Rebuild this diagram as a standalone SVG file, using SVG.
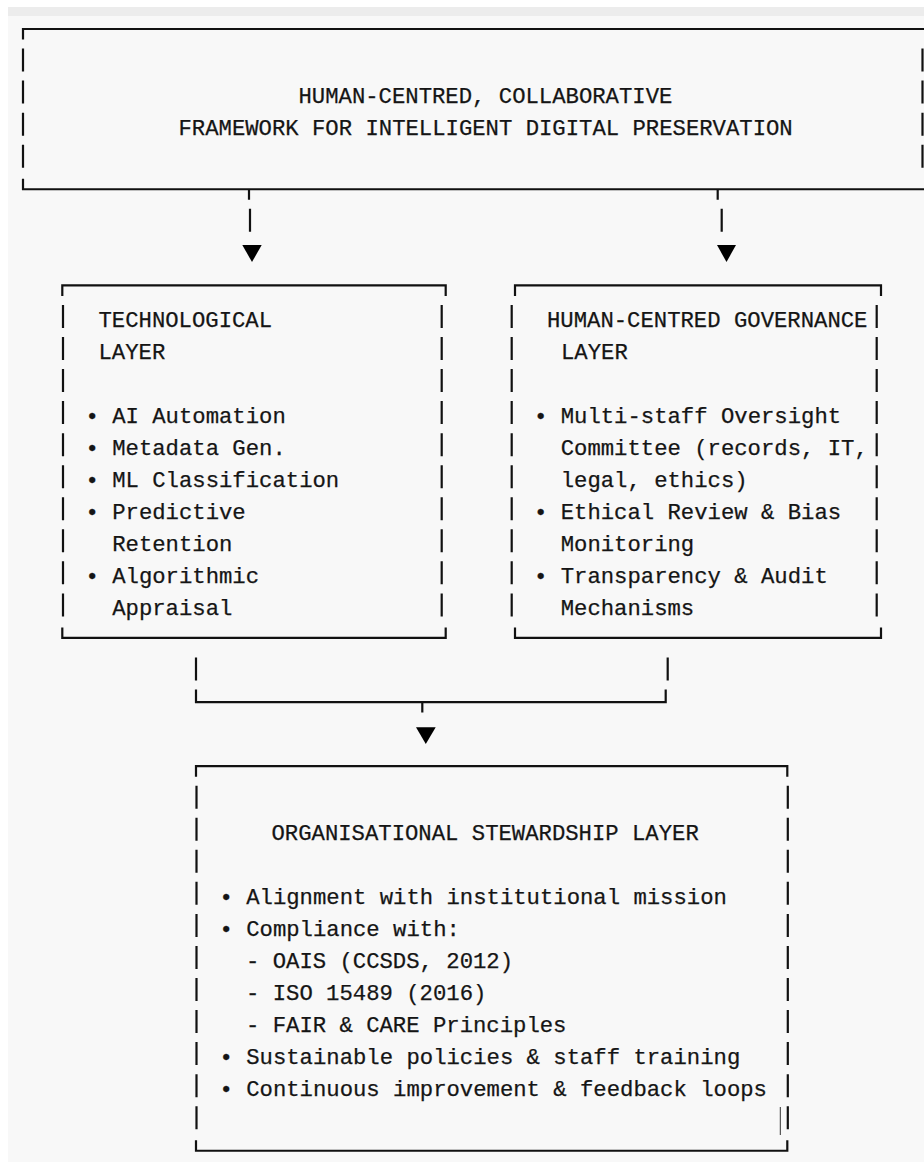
<svg xmlns="http://www.w3.org/2000/svg" width="924" height="1162" viewBox="0 0 924 1162">
<style>
.t{font-family:"Liberation Mono","DejaVu Sans Mono",monospace;font-size:22.25px;fill:#151515;stroke:#151515;stroke-width:0.25}
.b{fill:none;stroke:#111;stroke-width:2.2}
.v{fill:none;stroke:#111;stroke-width:2.2;stroke-dasharray:23 9.05}
.ah{fill:#000}
</style>
<rect x="0" y="0" width="924" height="1162" fill="#ffffff"/>
<rect x="8" y="7" width="916" height="1155" fill="#f8f8f8"/>
<rect x="8" y="7" width="916" height="9" fill="#ececec"/>

<g id="node-top">
  <path class="b" d="M23 39.5 V29 H930 M23 178.75 V189.25 H930"/>
  <path class="v" d="M23 48.55 V167.7 M922.5 48.55 V167.7"/>
  <text class="t" x="298.5" y="102.6">HUMAN-CENTRED, COLLABORATIVE</text>
  <text class="t" x="178.5" y="134.65">FRAMEWORK FOR INTELLIGENT DIGITAL PRESERVATION</text>
</g>

<g id="node-tech">
  <path class="b" d="M62.3 295.9 V285.4 H445.7 V295.9 M62.3 627.45 V637.95 H445.7 V627.45"/>
  <path class="v" d="M63 304.95 V616.4 M441.7 304.95 V616.4"/>
  <text class="t" x="98.5" y="326.95">TECHNOLOGICAL</text>
  <text class="t" x="98.5" y="359">LAYER</text>
  <text class="t" x="85.5" y="423.1">• AI Automation</text>
  <text class="t" x="85.5" y="455.15">• Metadata Gen.</text>
  <text class="t" x="85.5" y="487.2">• ML Classification</text>
  <text class="t" x="85.5" y="519.25">• Predictive</text>
  <text class="t" x="112.2" y="551.3">Retention</text>
  <text class="t" x="85.5" y="583.35">• Algorithmic</text>
  <text class="t" x="112.2" y="615.4">Appraisal</text>
</g>

<g id="node-gov">
  <path class="b" d="M515 295.9 V285.4 H881 V295.9 M515 627.45 V637.95 H881 V627.45"/>
  <path class="v" d="M511.7 304.95 V616.4 M876.7 304.95 V616.4"/>
  <text class="t" x="547" y="326.95">HUMAN-CENTRED GOVERNANCE</text>
  <text class="t" x="561" y="359">LAYER</text>
  <text class="t" x="534" y="423.1">• Multi-staff Oversight</text>
  <text class="t" x="560.7" y="455.15">Committee (records, IT,</text>
  <text class="t" x="560.7" y="487.2">legal, ethics)</text>
  <text class="t" x="534" y="519.25">• Ethical Review &amp; Bias</text>
  <text class="t" x="560.7" y="551.3">Monitoring</text>
  <text class="t" x="534" y="583.35">• Transparency &amp; Audit</text>
  <text class="t" x="560.7" y="615.4">Mechanisms</text>
</g>

<g id="node-org">
  <path class="b" d="M196 776.65 V766.15 H787.3 V776.65 M196 1140.25 V1150.75 H787.3 V1140.25"/>
  <path class="v" d="M196.5 785.7 V1129.2 M787.8 785.7 V1129.2"/>
  <line x1="780.3" y1="1107" x2="780.3" y2="1135" stroke="#333" stroke-width="1"/>
  <text class="t" x="271.5" y="839.75">ORGANISATIONAL STEWARDSHIP LAYER</text>
  <text class="t" x="219.5" y="903.85">• Alignment with institutional mission</text>
  <text class="t" x="219.5" y="935.9">• Compliance with:</text>
  <text class="t" x="246" y="967.95">- OAIS (CCSDS, 2012)</text>
  <text class="t" x="246" y="1000">- ISO 15489 (2016)</text>
  <text class="t" x="246" y="1032.05">- FAIR &amp; CARE Principles</text>
  <text class="t" x="219.5" y="1064.1">• Sustainable policies &amp; staff training</text>
  <text class="t" x="219.5" y="1096.15">• Continuous improvement &amp; feedback loops</text>
</g>

<g id="connectors">
  <path class="b" d="M249 189.25 V199.75 M250 208.8 V231.8"/>
  <polygon class="ah" points="242.3,245 261.7,245 252,262"/>
  <path class="b" d="M717.7 189.25 V199.75 M721.7 208.8 V231.8"/>
  <polygon class="ah" points="717,245 736,245 726.5,262"/>
  <path class="b" d="M196 657.5 V680.5 M667.7 657.5 V680.5"/>
  <path class="b" d="M196 689.5 V702.05 H665.7 V689.5 M422.3 702.05 V712.5"/>
  <polygon class="ah" points="416,727.3 435.7,727.3 425.8,744"/>
</g>
</svg>
